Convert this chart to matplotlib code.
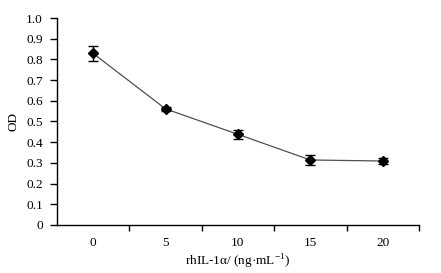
import matplotlib
matplotlib.use("Agg")
import matplotlib.pyplot as plt

plt.rcParams['font.family'] = ['Liberation Serif', 'DejaVu Serif']
plt.rcParams['mathtext.fontset'] = 'custom'
plt.rcParams['mathtext.rm'] = 'Liberation Serif'

categories = ['0', '5', '10', '15', '20']
od = [0.829, 0.561, 0.438, 0.314, 0.309]
err = [0.035, 0.010, 0.022, 0.024, 0.016]
yticks = [0, 0.1, 0.2, 0.3, 0.4, 0.5, 0.6, 0.7, 0.8, 0.9, 1.0]
ytick_labels = ['0', '0.1', '0.2', '0.3', '0.4', '0.5', '0.6', '0.7', '0.8', '0.9', '1.0']

fig = plt.figure(figsize=(4.41, 2.73), dpi=100)
ax = fig.add_axes([0.129, 0.176, 0.821, 0.758])
x = list(range(len(categories)))
ax.plot(x, od, color='#505050', lw=0.9, zorder=2)
ax.errorbar(x, od, yerr=err, fmt='D', color='black', ms=5.5, capsize=3.5,
            elinewidth=1.0, capthick=1.0, zorder=3)
ax.set_xlim(-0.5, len(categories) - 0.5)
ax.set_ylim(0, 1.0)
ax.set_yticks(yticks)
ax.set_yticklabels(ytick_labels, fontsize=9.5)
ax.set_xticks(x)
ax.set_xticklabels(categories, fontsize=9.5)
ax.set_xticks([i + 0.5 for i in x], minor=True)
ax.tick_params(axis='x', which='major', length=0, pad=9)
ax.tick_params(axis='x', which='minor', length=4, width=1.0, direction='out')
ax.tick_params(axis='y', length=5, width=1.0, direction='out', pad=5)
for s in ['top', 'right']:
    ax.spines[s].set_visible(False)
for s in ['left', 'bottom']:
    ax.spines[s].set_linewidth(1.0)
ax.set_ylabel('OD', fontsize=9.5, labelpad=5)
ax.set_xlabel('rhIL-1α/ (ng·mL$^{-1}$)', fontsize=9.5, labelpad=2)
fig.savefig('out.png', dpi=100)
